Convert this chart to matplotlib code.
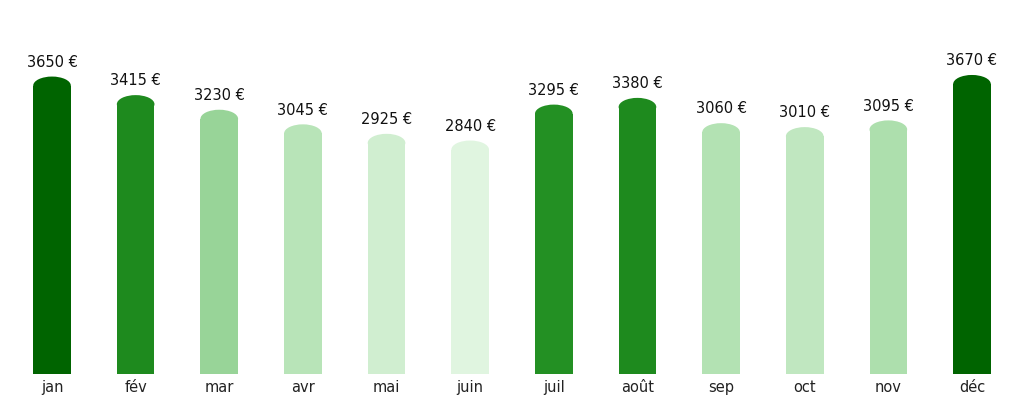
import matplotlib
matplotlib.use('Agg')
import matplotlib.pyplot as plt
from matplotlib.patches import Ellipse

plt.rcParams['font.family'] = ['DejaVu Sans']

months = ['jan', 'fév', 'mar', 'avr', 'mai', 'juin', 'juil', 'août', 'sep', 'oct', 'nov', 'déc']
values = [3650, 3415, 3230, 3045, 2925, 2840, 3295, 3380, 3060, 3010, 3095, 3670]
colors = ['#006400', '#1e8a1e', '#98d498', '#b8e4b8', '#d0eed0', '#e0f5e0',
          '#239023', '#1e8a1e', '#b3e2b3', '#c0e7c0', '#addfad', '#006400']

fig = plt.figure(figsize=(10.24, 4.04), dpi=100)
ax = fig.add_axes([0, 0.0743, 1, 0.9257])

x = list(range(len(months)))
width = 0.45
ax.bar(x, values, width=width, color=colors)
for xi, v, c in zip(x, values, colors):
    # rounded top
    ax.add_patch(Ellipse((xi, v), width, 230, color=c, lw=0))
    ax.text(xi, v + 295, f'{v} €', ha='center', va='center', fontsize=10.5, color='#111111')

ax.set_xlim(-0.622, 11.622)
ax.set_ylim(0, 4734)
ax.set_xticks(x)
ax.set_xticklabels(months, fontsize=10.5, color='#222222')
ax.tick_params(axis='x', length=0, pad=4)
ax.set_yticks([])
for s in ax.spines.values():
    s.set_visible(False)

fig.savefig('out.png', dpi=100)
